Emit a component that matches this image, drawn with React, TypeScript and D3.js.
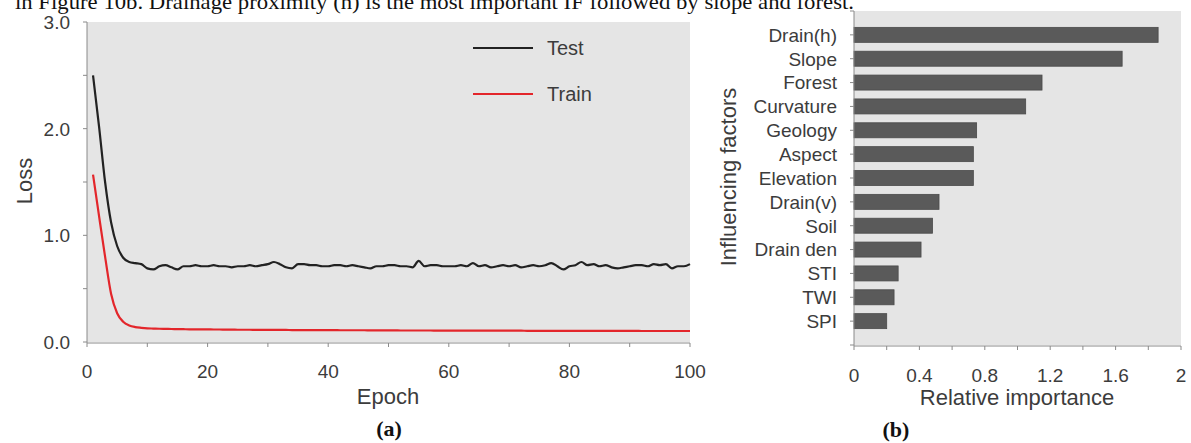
import React from "react";
import * as d3 from "d3";

// left panel: loss per epoch
const epochs = d3.range(1, 101);
const testLoss = [
  2.5, 2.02, 1.5, 1.12, 0.9, 0.79, 0.75, 0.74, 0.73, 0.69,
  0.68, 0.71, 0.72, 0.7, 0.68, 0.71, 0.71, 0.72, 0.71, 0.71,
  0.72, 0.71, 0.71, 0.7, 0.71, 0.71, 0.72, 0.71, 0.72, 0.73,
  0.75, 0.73, 0.7, 0.69, 0.73, 0.73, 0.72, 0.72, 0.71, 0.71,
  0.72, 0.72, 0.71, 0.72, 0.71, 0.7, 0.69, 0.71, 0.71, 0.72,
  0.72, 0.71, 0.71, 0.7, 0.76, 0.71, 0.72, 0.72, 0.71, 0.71,
  0.71, 0.72, 0.71, 0.74, 0.71, 0.72, 0.7, 0.71, 0.72, 0.71,
  0.72, 0.7, 0.71, 0.72, 0.71, 0.72, 0.74, 0.71, 0.68, 0.71,
  0.72, 0.75, 0.72, 0.73, 0.71, 0.72, 0.7, 0.69, 0.7, 0.71,
  0.72, 0.72, 0.71, 0.73, 0.72, 0.73, 0.69, 0.71, 0.71, 0.73,
];
const trainLoss = [
  1.57, 1.18, 0.8, 0.45, 0.27, 0.19, 0.155, 0.14, 0.133, 0.128,
  0.126, 0.124, 0.123, 0.122, 0.121, 0.12, 0.119, 0.119, 0.118, 0.118,
  0.117, 0.117, 0.116, 0.116, 0.115, 0.115, 0.115, 0.114, 0.114, 0.114,
  0.113, 0.113, 0.113, 0.112, 0.112, 0.112, 0.112, 0.111, 0.111, 0.111,
  0.111, 0.11, 0.11, 0.11, 0.11, 0.11, 0.109, 0.109, 0.109, 0.109,
  0.109, 0.108, 0.108, 0.108, 0.108, 0.108, 0.108, 0.107, 0.107, 0.107,
  0.107, 0.107, 0.107, 0.107, 0.106, 0.106, 0.106, 0.106, 0.106, 0.106,
  0.106, 0.106, 0.105, 0.105, 0.105, 0.105, 0.105, 0.105, 0.105, 0.105,
  0.105, 0.104, 0.104, 0.104, 0.104, 0.104, 0.104, 0.104, 0.104, 0.104,
  0.104, 0.103, 0.103, 0.103, 0.103, 0.103, 0.103, 0.103, 0.103, 0.103,
];

// right panel: relative importance of influencing factors
const factors = [
  "Drain(h)", "Slope", "Forest", "Curvature", "Geology", "Aspect", "Elevation",
  "Drain(v)", "Soil", "Drain den", "STI", "TWI", "SPI",
];
const importance = [1.86, 1.64, 1.15, 1.05, 0.75, 0.73, 0.73, 0.52, 0.48, 0.41, 0.27, 0.245, 0.2];

const W = 1191;
const H = 443;
const sans = "'Liberation Sans', Arial, sans-serif";
const serif = "'Liberation Serif', 'Times New Roman', serif";
const txt = "#3c3c3c";
const axisCol = "#8a8a8a";
const bg = "#e5e5e5";

const App = () => {
  // scales
  const xL = d3.scaleLinear().domain([0, 100]).range([87, 690]);
  const yL = d3.scaleLinear().domain([0, 3]).range([342, 22]);
  const xR = d3.scaleLinear().domain([0, 2]).range([854, 1181]);
  const yR = d3.scalePoint<string>().domain(factors).range([11, 345]).padding(1);
  const barH = 15;

  const line = (vals: number[]) =>
    d3
      .line<number>()
      .x((_, i) => xL(epochs[i]))
      .y((d) => yL(d))
      .curve(d3.curveMonotoneX)(vals) || "";

  const fmt1 = d3.format(".1f");
  const yRTicks = [11, ...factors.map((f) => yR(f) as number), 345];

  return (
    <div style={{ position: "absolute", left: 0, top: 0 }}>
      <svg width={W} height={H} style={{ display: "block", background: "#fff" }}>
        {/* running text cut at the top */}
        <text x={15} y={9} fontFamily={serif} fontSize={22} fill="#111" textLength={839} lengthAdjust="spacingAndGlyphs">
          in Figure 10b. Drainage proximity (h) is the most important IF followed by slope and forest.
        </text>

        {/* ---- (a) loss chart ---- */}
        <rect x={xL(0)} y={yL(3)} width={xL(100) - xL(0)} height={yL(0) - yL(3)} fill={bg} />
        <line x1={xL(0)} x2={xL(0)} y1={yL(3)} y2={yL(0) + 1} stroke={axisCol} />
        <line x1={xL(0)} x2={xL(100)} y1={yL(0) + 1} y2={yL(0) + 1} stroke={axisCol} />
        {yL.ticks(6).map((t) => (
          <g key={"yl" + t}>
            <line x1={xL(0) - 4} x2={xL(0)} y1={yL(t)} y2={yL(t)} stroke={axisCol} />
            {Math.abs(t % 1) < 1e-6 && (
              <text x={70} y={yL(t)} dy="0.36em" textAnchor="end" fontFamily={sans} fontSize={19} fill={txt}>
                {fmt1(t)}
              </text>
            )}
          </g>
        ))}
        {xL.ticks(10).map((t) => (
          <g key={"xl" + t}>
            <line x1={xL(t)} x2={xL(t)} y1={yL(0) + 1} y2={yL(0) + 5} stroke={axisCol} />
            {t % 20 === 0 && (
              <text x={xL(t)} y={378} textAnchor="middle" fontFamily={sans} fontSize={19} fill={txt}>
                {t}
              </text>
            )}
          </g>
        ))}
        <path d={line(trainLoss)} fill="none" stroke="#e3262b" strokeWidth={2.2} />
        <path d={line(testLoss)} fill="none" stroke="#222" strokeWidth={2.2} />

        {/* legend */}
        <line x1={473} x2={533} y1={48} y2={48} stroke="#222" strokeWidth={2.2} />
        <text x={547} y={48} dy="0.36em" fontFamily={sans} fontSize={20} fill={txt}>Test</text>
        <line x1={473} x2={533} y1={94} y2={94} stroke="#e3262b" strokeWidth={2.2} />
        <text x={547} y={94} dy="0.36em" fontFamily={sans} fontSize={20} fill={txt}>Train</text>

        <text x={388} y={404} textAnchor="middle" fontFamily={sans} fontSize={22} fill={txt}>Epoch</text>
        <text transform="translate(32,181) rotate(-90)" textAnchor="middle" fontFamily={sans} fontSize={22} fill={txt}>Loss</text>
        <text x={389} y={436} textAnchor="middle" fontFamily={serif} fontWeight="bold" fontSize={22} fill="#111">(a)</text>

        {/* ---- (b) importance chart ---- */}
        <rect x={xR(0)} y={11} width={xR(2) - xR(0)} height={345 - 11} fill={bg} />
        {factors.map((f, i) => (
          <rect
            key={f}
            x={xR(0)}
            y={(yR(f) as number) - barH / 2}
            width={xR(importance[i]) - xR(0)}
            height={barH}
            fill="#5a5a5a"
            stroke="#4a4a4a"
            strokeWidth={0.8}
          />
        ))}
        <line x1={xR(0)} x2={xR(0)} y1={11} y2={346} stroke={axisCol} />
        <line x1={xR(0)} x2={xR(2)} y1={346} y2={346} stroke={axisCol} />
        {yRTicks.map((y, i) => (
          <line key={"yr" + i} x1={xR(0) - 4} x2={xR(0)} y1={y} y2={y} stroke={axisCol} />
        ))}
        {factors.map((f) => (
          <text key={"lab" + f} x={837} y={yR(f) as number} dy="0.36em" textAnchor="end" fontFamily={sans} fontSize={19} fill={txt}>
            {f}
          </text>
        ))}
        {xR.ticks(10).map((t, i) => (
          <g key={"xr" + i}>
            <line x1={xR(t)} x2={xR(t)} y1={346} y2={350} stroke={axisCol} />
            {i % 2 === 0 && (
              <text x={xR(t)} y={382} textAnchor="middle" fontFamily={sans} fontSize={19} fill={txt}>
                {String(+t.toFixed(1))}
              </text>
            )}
          </g>
        ))}
        <text x={1017} y={405} textAnchor="middle" fontFamily={sans} fontSize={22} fill={txt}>Relative importance</text>
        <text transform="translate(736,177) rotate(-90)" textAnchor="middle" fontFamily={sans} fontSize={22} fill={txt}>Influencing factors</text>
        <text x={896} y={437} textAnchor="middle" fontFamily={serif} fontWeight="bold" fontSize={22} fill="#111">(b)</text>
      </svg>
    </div>
  );
};

export default App;
